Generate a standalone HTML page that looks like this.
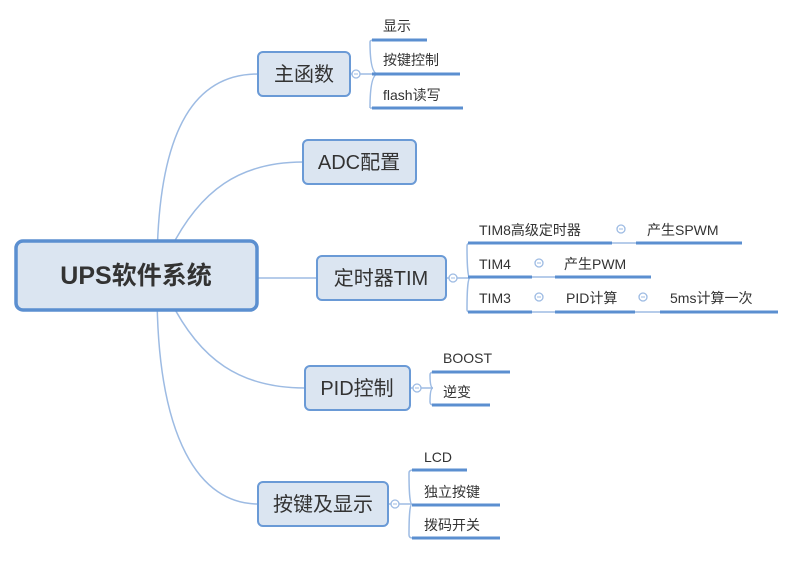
<!DOCTYPE html>
<html><head><meta charset="utf-8"><style>
html,body{margin:0;padding:0;background:#fff}
text{font-family:"Liberation Sans","Noto Sans CJK SC",sans-serif;fill:#333}
</style></head><body>
<svg width="799" height="559" viewBox="0 0 799 559" xmlns="http://www.w3.org/2000/svg">
<g fill="none" stroke="#9dbbe3" stroke-width="1.5">
<path d="M157,270 C157,120 200,74 258,74"/>
<path d="M170,250 C200,190 240,162 303,162"/>
<path d="M257,278 L316,278"/>
<path d="M170,300 C200,360 240,388 305,388"/>
<path d="M157,290 C157,440 200,504 258,504"/>
<path d="M350,74 L378,74 M370,42 Q370,74 378,74 M370,108 Q370,74 378,74 M370,42 Q370,40 374,40 M370,108 Q370,108 374,108"/>
<path d="M446,278 L470,278 M467,246 Q467,278 470,278 M467,310 Q467,278 470,278 M467,246 Q467,243 471,243 M467,310 Q467,312 471,312"/>
<path d="M410,388 L433,388 M430,375 Q430,388 433,388 M430,402 Q430,388 433,388 M430,375 Q430,372 434,372 M430,402 Q430,405 434,405"/>
<path d="M388,504 L412,504 M409,473 Q409,504 412,504 M409,535 Q409,504 412,504 M409,473 Q409,470 413,470 M409,535 Q409,538 413,538"/>
<path d="M612,243 L636,243 M532,277 L555,277 M532,312 L555,312 M635,312 L660,312"/>
</g>
<g fill="#fff" stroke="#9dbbe3" stroke-width="1.3">
<circle cx="356" cy="74" r="4"/><circle cx="453" cy="278" r="4"/><circle cx="417" cy="388" r="4"/><circle cx="395" cy="504" r="4"/>
<circle cx="621" cy="229" r="4"/><circle cx="539" cy="263" r="4"/><circle cx="539" cy="297" r="4"/><circle cx="643" cy="297" r="4"/>
</g>
<g stroke="#9dbbe3" stroke-width="1"><path d="M354,74h4M451,278h4M415,388h4M393,504h4M619,229h4M537,263h4M537,297h4M641,297h4"/></g>
<rect x="16" y="241" width="241" height="69" rx="7" fill="#dbe5f1" stroke="#5b8fd0" stroke-width="3.5"/>
<text x="136" y="284" font-size="25" font-weight="bold" text-anchor="middle" fill="#333">UPS软件系统</text>
<g fill="#dbe5f1" stroke="#6a9ad6" stroke-width="2">
<rect x="258" y="52" width="92" height="44" rx="5"/>
<rect x="303" y="140" width="113" height="44" rx="5"/>
<rect x="317" y="256" width="129" height="44" rx="5"/>
<rect x="305" y="366" width="105" height="44" rx="5"/>
<rect x="258" y="482" width="130" height="44" rx="5"/>
</g>
<g font-size="20" text-anchor="middle">
<text x="304" y="81">主函数</text>
<text x="359" y="169">ADC配置</text>
<text x="381" y="285">定时器TIM</text>
<text x="357" y="395">PID控制</text>
<text x="323" y="511">按键及显示</text>
</g>
<g stroke="#5b8fd0" stroke-width="3">
<path d="M372,40h55M372,74h88M372,108h91"/>
<path d="M468,243h144M636,243h106M468,277h64M555,277h96M468,312h64M555,312h80M660,312h118"/>
<path d="M432,372h78M432,405h58"/>
<path d="M412,470h55M412,505h88M412,538h88"/>
</g>
<g font-size="14">
<text x="383" y="31">显示</text><text x="383" y="65">按键控制</text><text x="383" y="100">flash读写</text>
<text x="479" y="235">TIM8高级定时器</text><text x="647" y="235">产生SPWM</text>
<text x="479" y="269">TIM4</text><text x="564" y="269">产生PWM</text>
<text x="479" y="303">TIM3</text><text x="566" y="303">PID计算</text><text x="670" y="303">5ms计算一次</text>
<text x="443" y="363">BOOST</text><text x="443" y="397">逆变</text>
<text x="424" y="462">LCD</text><text x="424" y="497">独立按键</text><text x="424" y="530">拨码开关</text>
</g>
</svg>
</body></html>
